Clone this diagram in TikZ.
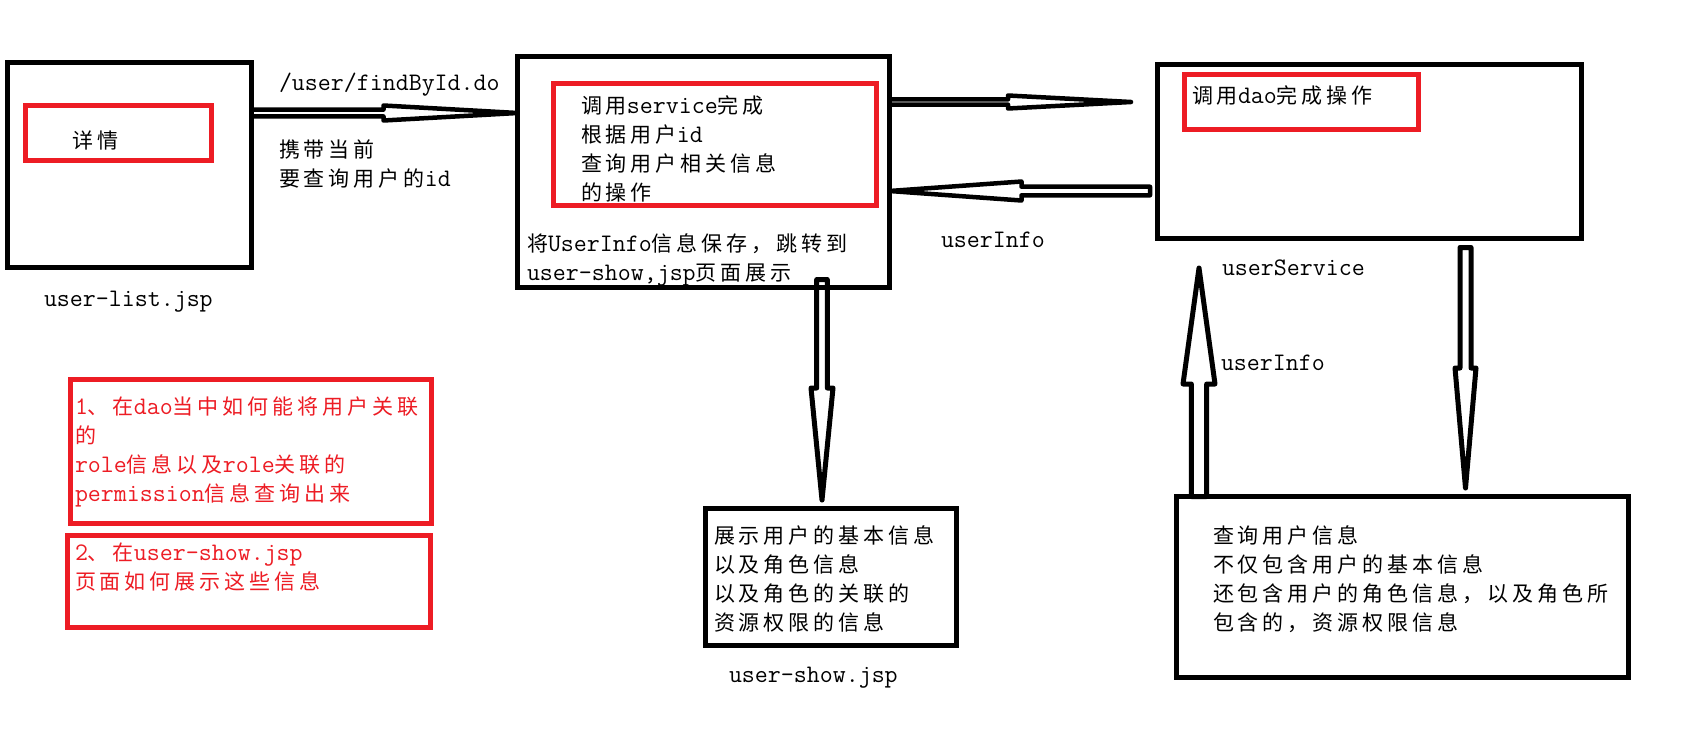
\documentclass[tikz,border=0pt]{standalone}
\usepackage{fontspec}
\usetikzlibrary{calc}
\newfontfamily\cjkf[LetterSpace=19]{Noto Sans CJK SC}
\newcommand\en[1]{{\fontsize{25.2pt}{29pt}\selectfont\ttfamily #1}}
\definecolor{pred}{HTML}{ED1C24}
\tikzset{
  blackbox/.style={draw=black,line width=5pt,fill=none,inner sep=0pt,outer sep=0pt},
  redbox/.style={draw=pred,line width=5pt,fill=none,inner sep=0pt,outer sep=0pt},
  lbl/.style={anchor=north west,inner sep=0pt,outer sep=0pt,align=left,text=black,
    font=\fontsize{21pt}{29pt}\selectfont\cjkf},
  redlbl/.style={lbl,text=pred},
  hollow/.style={draw=black,line join=round,fill=none}
}
% #1 start, #2 tip, #3 head length, #4 half shaft, #5 half head, #6 line width
\newcommand\harrow[6]{%
  \coordinate (hb) at ($(#2)!#3pt!(#1)$);
  \draw[hollow,line width=#6pt]
    ($(#1)!#4pt!90:(#2)$) -- ($(hb)!#4pt!90:(#2)$) -- ($(hb)!#5pt!90:(#2)$) -- (#2)
    -- ($(hb)!#5pt!-90:(#2)$) -- ($(hb)!#4pt!-90:(#2)$) -- ($(#1)!#4pt!-90:(#2)$) -- cycle;
}
% #1 name, #2 style, #3 left, #4 top, #5 right, #6 bottom (outer edges)
\newcommand\pbox[6]{%
  \node[#2,minimum width={#5pt-#3pt-5pt},minimum height={#6pt-#4pt-5pt}] (#1) at ({(#3+#5)/2},{(#4+#6)/2}) {};
}
\begin{document}
\begin{tikzpicture}[x=1pt,y=-1pt]
\useasboundingbox[fill=white] (0,0) rectangle (1699,731);
\pbox{listbox}{blackbox}{5}{60}{254}{270}
\pbox{detailbox}{redbox}{23}{103}{214}{163}
\pbox{ctrlbox}{blackbox}{515}{54}{892}{290}
\pbox{ctrlred}{redbox}{551}{81}{879}{208}
\pbox{svcbox}{blackbox}{1155}{62}{1584}{241}
\pbox{svcred}{redbox}{1182}{72}{1421}{132}
\pbox{showbox}{blackbox}{703}{506}{959}{648}
\pbox{daobox}{blackbox}{1174}{494}{1631}{680}
\pbox{qonebox}{redbox}{68}{377}{434}{526}
\pbox{qtwobox}{redbox}{65}{533}{433}{630}

% texts
\node[lbl] (tdetail) at (72.5,127.7) {\strut 详情};
\node[lbl] (tlist) at (44,285.7) {\strut\en{user-list.jsp}};
\node[lbl] (turl) at (279,69.7) {\strut\en{/user/findById.do}};
\node[lbl] (tcarry) at (279,136.7) {\strut 携带当前\\要查询用户的\en{id}};
\node[lbl] (tctrl) at (581,92.7) {\strut 调用\en{service}完成\\根据用户\en{id}\\查询用户相关信息\\的操作};
\node[lbl] (tsave) at (527,230.7) {\strut 将\en{UserInfo}信息保存，跳转到\\\en{user-show,jsp}页面展示};
\node[lbl] (tinfoa) at (941,226.7) {\strut\en{userInfo}};
\node[lbl] (tdao) at (1192,82.7) {\strut 调用\en{dao}完成操作};
\node[lbl] (tsvc) at (1222,254.7) {\strut\en{userService}};
\node[lbl] (tinfob) at (1221,349.7) {\strut\en{userInfo}};
\node[redlbl] (tqone) at (75,393.7) {\strut\en{1}、在\en{dao}当中如何能将用户关联\\的\\\en{role}信息以及\en{role}关联的\\\en{permission}信息查询出来};
\node[redlbl] (tqtwo) at (75,539.7) {\strut\en{2}、在\en{user-show.jsp}\\页面如何展示这些信息};
\node[lbl] (tshow) at (714,522.7) {\strut 展示用户的基本信息\\以及角色信息\\以及角色的关联的\\资源权限的信息};
\node[lbl] (tshown) at (729,661.7) {\strut\en{user-show.jsp}};
\node[lbl] (tquery) at (1213,522.7) {\strut 查询用户信息\\不仅包含用户的基本信息\\还包含用户的角色信息，以及角色所\\包含的，资源权限信息};

% connector ends
\coordinate (aas) at (listbox.east |- 0,113);
\coordinate (aat) at (ctrlbox.west |- 0,113);
\coordinate (abs) at (ctrlbox.east |- 0,102);
\coordinate (abt) at (1131,102);
\coordinate (acs) at (1150,191);
\coordinate (act) at (ctrlbox.east |- 0,191);
\coordinate (ads) at (822,279.5);
\coordinate (adt) at (822,500);
\coordinate (aes) at (1465.5,247.5);
\coordinate (aet) at (1465.5,488);
\coordinate (afs) at (1199,0 |- daobox.north);
\coordinate (aft) at (1199,268);

\harrow{aas}{aat}{134}{3.4}{7.5}{4.5}
\harrow{abs}{abt}{123}{2.6}{6.5}{4.5}
\harrow{acs}{act}{132}{4.3}{9.5}{4.5}
\harrow{ads}{adt}{112}{5.3}{11}{5}
\harrow{aes}{aet}{120}{5.5}{10.5}{5}
\harrow{afs}{aft}{116}{7.7}{16}{5}
\end{tikzpicture}
\end{document}
